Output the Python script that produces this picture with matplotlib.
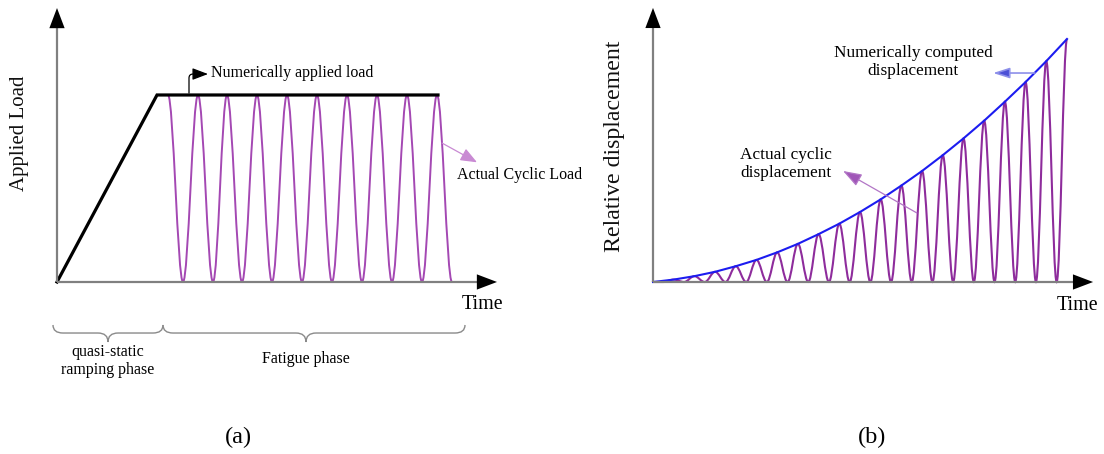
import matplotlib.pyplot as plt
from matplotlib.path import Path
from matplotlib.patches import PathPatch

plt.rcParams['font.family'] = ['Liberation Serif', 'DejaVu Serif']

# ---- panel (a): applied load history ----
ramp_t = [0, 10, 38.1]          # ramp then numerically applied (constant) load
ramp_load = [0, 1, 1]
# extremes of the actual cyclic load (peak, trough, peak, ...)
cyclic_t = [11.1, 12.6, 14.1, 15.6, 17.0, 18.5, 20.0, 21.5, 23.0, 24.5,
            26.0, 27.5, 29.0, 30.5, 32.0, 33.5, 35.0, 36.5, 38.0, 39.5]
cyclic_load = [1, 0, 1, 0, 1, 0, 1, 0, 1, 0,
               1, 0, 1, 0, 1, 0, 1, 0, 1, 0]

# ---- panel (b): relative displacement ----
peak_t = [0, 1, 2, 3, 4, 5, 6, 7, 8, 9, 10,
          11, 12, 13, 14, 15, 16, 17, 18, 19, 20]
peak_disp = [0, 0.10, 0.24, 0.42, 0.65, 0.91, 1.22, 1.57, 1.97, 2.40, 2.88,
             3.40, 3.97, 4.57, 5.22, 5.91, 6.64, 7.42, 8.23, 9.09, 10.0]
trough_t = [0.5, 1.5, 2.5, 3.5, 4.5, 5.5, 6.5, 7.5, 8.5, 9.5,
            10.5, 11.5, 12.5, 13.5, 14.5, 15.5, 16.5, 17.5, 18.5, 19.5]
trough_disp = [0] * 20

GRAY = '#808080'
small_fs = 11.5


def wave(ax, ts, ys, **kw):
    # smooth half-cosine-like bezier between successive extremes
    verts = [(ts[0], ys[0])]
    codes = [Path.MOVETO]
    for i in range(1, len(ts)):
        dt = ts[i] - ts[i - 1]
        verts += [(ts[i - 1] + 0.363 * dt, ys[i - 1]),
                  (ts[i] - 0.363 * dt, ys[i]), (ts[i], ys[i])]
        codes += [Path.CURVE4] * 3
    ax.add_patch(PathPatch(Path(verts, codes), fill=False, **kw))


def brace(ax, x0, x1, xm, ytop, ymid, ybot, w):
    verts = [(x0, ytop), (x0, ymid), (x0 + w, ymid), (xm - w, ymid),
             (xm, ymid), (xm, ybot), (xm, ymid), (xm + w, ymid),
             (x1 - w, ymid), (x1, ymid), (x1, ytop)]
    codes = [Path.MOVETO, Path.CURVE3, Path.CURVE3, Path.LINETO,
             Path.CURVE3, Path.CURVE3, Path.CURVE3, Path.CURVE3,
             Path.LINETO, Path.CURVE3, Path.CURVE3]
    ax.add_patch(PathPatch(Path(verts, codes), fill=False, ec='#8a8a8a', lw=1.0))


def axis_arrow(ax, start, base, tip):
    ax.plot([start[0], base[0]], [start[1], base[1]], color=GRAY, lw=1.6,
            solid_capstyle='butt', zorder=3)
    ax.annotate('', xy=tip, xytext=base,
                arrowprops=dict(arrowstyle='-|>,head_length=1.45,head_width=0.55',
                                mutation_scale=10, fc='k', ec='k', lw=0,
                                shrinkA=0, shrinkB=0), zorder=4)


fig = plt.figure(figsize=(11.04, 4.54), dpi=100)

ax = fig.add_axes([0, 0, 0.5, 1])
ax.set_xlim(-5.7, 49.5)
ax.set_ylim(-0.92, 1.508)
ax.axis('off')

wave(ax, cyclic_t, cyclic_load, ec='#a448b3', lw=1.4)
ax.plot(ramp_t, ramp_load, color='k', lw=2.3, solid_joinstyle='miter', zorder=3)
axis_arrow(ax, (0, 0), (0, 1.358), (0, 1.465))
axis_arrow(ax, (0, 0), (42.0, 0), (44.0, 0))

ax.text(-3.7, 0.797, 'Applied Load', rotation=90, ha='center', va='center',
        fontsize=15, color='#111111')
ax.text(42.5, -0.118, 'Time', ha='center', va='center', fontsize=14.4)

ax.annotate('', xy=(15.1, 1.112), xytext=(13.2, 1.01),
            arrowprops=dict(arrowstyle='-|>,head_length=0.95,head_width=0.36',
                            mutation_scale=10, color='k', lw=0.9,
                            connectionstyle='angle,angleA=90,angleB=180,rad=4',
                            shrinkA=0, shrinkB=0))
ax.text(15.4, 1.118, 'Numerically applied load', ha='left', va='center',
        fontsize=small_fs)

ax.annotate('', xy=(42.0, 0.64), xytext=(38.5, 0.743),
            arrowprops=dict(arrowstyle='-|>,head_length=1.0,head_width=0.4',
                            mutation_scale=10, color='#c98ad3', lw=0.9,
                            shrinkA=0, shrinkB=0))
ax.text(40.0, 0.572, 'Actual Cyclic Load', ha='left', va='center',
        fontsize=small_fs)

brace(ax, -0.4, 10.6, 5.1, -0.23, -0.273, -0.321, 1.0)
brace(ax, 10.6, 40.8, 24.9, -0.23, -0.273, -0.321, 1.0)
ax.text(5.1, -0.4225, 'quasi-static\nramping phase', ha='center', va='center',
        fontsize=small_fs, linespacing=1.1)
ax.text(24.9, -0.412, 'Fatigue phase', ha='center', va='center',
        fontsize=small_fs)
ax.text(18.1, -0.829, '(a)', ha='center', va='center', fontsize=17.5)

# ---- panel (b) ----
bx = fig.add_axes([0.5, 0, 0.5, 1])
bx.set_xlim(-4.879, 21.787)
bx.set_ylim(-7.078, 11.605)
bx.axis('off')

ext_t = [peak_t[0]]
ext_d = [peak_disp[0]]
for k in range(len(trough_t)):
    ext_t += [trough_t[k], peak_t[k + 1]]
    ext_d += [trough_disp[k], peak_disp[k + 1]]
wave(bx, ext_t, ext_d, ec='#8e2c9c', lw=1.5)
bx.plot(peak_t, peak_disp, color='#1c1cf0', lw=1.5, zorder=3)
axis_arrow(bx, (0, 0), (0, 10.45), (0, 11.28))
axis_arrow(bx, (0, 0), (20.29, 0), (21.26, 0))

bx.text(-1.84, 5.6, 'Relative displacement', rotation=90, ha='center',
        va='center', fontsize=17.2, color='#111111')
bx.text(20.5, -0.95, 'Time', ha='center', va='center', fontsize=14.4)

bx.text(12.56, 9.05, 'Numerically computed\ndisplacement', ha='center',
        va='center', fontsize=12.4, linespacing=1.12)
bx.annotate('', xy=(16.43, 8.6), xytext=(18.45, 8.6),
            arrowprops=dict(arrowstyle='-|>,head_length=1.0,head_width=0.32',
                            mutation_scale=10, fc='#4b4fd6', ec='#8d90ea', lw=1.2,
                            shrinkA=0, shrinkB=0))
bx.text(4.2, 4.86, 'Actual cyclic\ndisplacement', ha='left', va='center',
        fontsize=12.4, linespacing=1.12)
bx.annotate('', xy=(9.18, 4.57), xytext=(12.75, 2.84),
            arrowprops=dict(arrowstyle='-|>,head_length=1.15,head_width=0.4',
                            mutation_scale=10, fc='#a056b8', ec='#b276c6', lw=0.9,
                            shrinkA=0, shrinkB=0))
bx.text(10.58, -6.38, '(b)', ha='center', va='center', fontsize=17.5)

fig.savefig('out.png', dpi=100)
